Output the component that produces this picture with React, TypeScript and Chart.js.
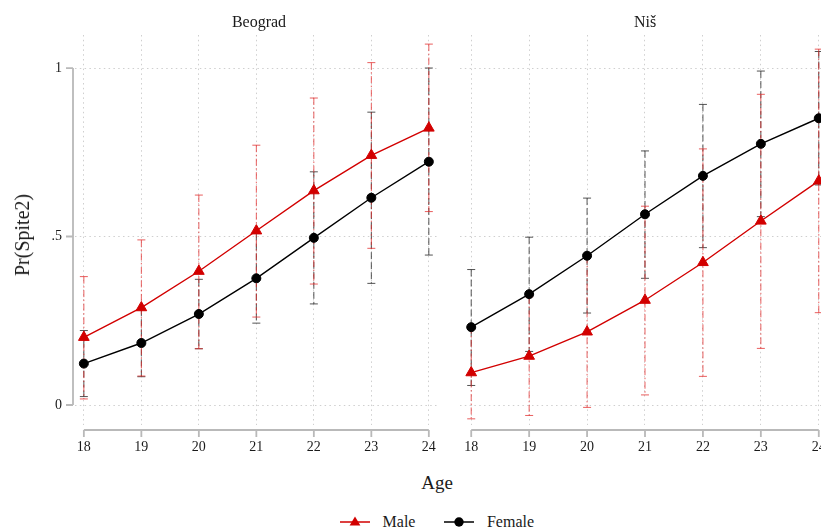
import React, { useEffect, useRef } from 'react';
import { Chart, registerables } from 'chart.js';
Chart.register(...registerables);

// ---------- data ----------
const ages = [18, 19, 20, 21, 22, 23, 24];
const yTicks = [0, 0.5, 1];
const yTickLabels = ['0', '.5', '1'];
const panelTitles = ['Beograd', 'Niš'];
const seriesNames = ['Male', 'Female'];
const xAxisTitle = 'Age';
const yAxisTitle = 'Pr(Spite2)';

const beogradMale = [0.201, 0.289, 0.397, 0.517, 0.636, 0.741, 0.822];
const beogradMaleLo = [0.018, 0.086, 0.167, 0.261, 0.359, 0.465, 0.574];
const beogradMaleHi = [0.381, 0.49, 0.623, 0.771, 0.911, 1.016, 1.071];
const beogradFemale = [0.123, 0.184, 0.27, 0.376, 0.496, 0.615, 0.722];
const beogradFemaleLo = [0.025, 0.084, 0.167, 0.243, 0.3, 0.361, 0.445];
const beogradFemaleHi = [0.221, 0.284, 0.373, 0.509, 0.692, 0.869, 1.0];

const nisMale = [0.096, 0.145, 0.217, 0.311, 0.423, 0.546, 0.665];
const nisMaleLo = [-0.041, -0.031, -0.007, 0.03, 0.085, 0.168, 0.274];
const nisMaleHi = [0.233, 0.321, 0.441, 0.59, 0.76, 0.922, 1.056];
const nisFemale = [0.231, 0.329, 0.443, 0.566, 0.68, 0.775, 0.851];
const nisFemaleLo = [0.058, 0.159, 0.273, 0.376, 0.467, 0.559, 0.653];
const nisFemaleHi = [0.402, 0.498, 0.614, 0.754, 0.892, 0.991, 1.049];

// ---------- styles ----------
const FONT = "'Liberation Serif', 'Times New Roman', serif";
const RED = '#d20000';
const BLACK = '#000000';
const RED_BAR = 'rgba(225,40,40,0.75)';
const BLACK_BAR = 'rgba(40,40,40,0.8)';
const GRID = '#cfcfcf';
const AXIS = '#b9b9b9';
const TEXT = '#1a1a1a';

type PanelOpts = {
  male: number[]; maleLo: number[]; maleHi: number[];
  female: number[]; femaleLo: number[]; femaleHi: number[];
  xMin: number; xMax: number; showY: boolean;
  padLeft: number; padRight: number; yWidth: number;
};

function makeConfig(o: PanelOpts): any {
  const errPlugin = {
    id: 'errAndAxes',
    beforeDatasetsDraw(chart: any) {
      const ctx = chart.ctx;
      const xs = chart.scales.x;
      const ys = chart.scales.y;
      const bars = [
        { lo: o.femaleLo, hi: o.femaleHi, color: BLACK_BAR, dash: [7, 3] },
        { lo: o.maleLo, hi: o.maleHi, color: RED_BAR, dash: [7, 2.5, 1.5, 2.5] },
      ];
      ctx.save();
      ctx.lineWidth = 1;
      for (const b of bars) {
        ctx.strokeStyle = b.color;
        for (let i = 0; i < ages.length; i++) {
          const x = xs.getPixelForValue(ages[i]);
          const y1 = ys.getPixelForValue(b.lo[i]);
          const y2 = ys.getPixelForValue(b.hi[i]);
          ctx.setLineDash(b.dash);
          ctx.beginPath();
          ctx.moveTo(x, y2);
          ctx.lineTo(x, y1);
          ctx.stroke();
          ctx.setLineDash([]);
          ctx.beginPath();
          ctx.moveTo(x - 4, y1);
          ctx.lineTo(x + 4, y1);
          ctx.moveTo(x - 4, y2);
          ctx.lineTo(x + 4, y2);
          ctx.stroke();
        }
      }
      ctx.restore();
    },
    afterDraw(chart: any) {
      const ctx = chart.ctx;
      const xs = chart.scales.x;
      const ys = chart.scales.y;
      const ca = chart.chartArea;
      ctx.save();
      ctx.strokeStyle = AXIS;
      ctx.lineWidth = 1.8;
      ctx.setLineDash([]);
      const xa = ca.bottom + 5;
      const x0 = xs.getPixelForValue(ages[0]);
      const x1 = xs.getPixelForValue(ages[ages.length - 1]);
      ctx.beginPath();
      ctx.moveTo(x0, xa);
      ctx.lineTo(x1, xa);
      for (const a of ages) {
        const x = xs.getPixelForValue(a);
        ctx.moveTo(x, xa);
        ctx.lineTo(x, xa + 7);
      }
      ctx.stroke();
      if (o.showY) {
        const ya = ca.left - 2;
        const yA = ys.getPixelForValue(yTicks[0]);
        const yB = ys.getPixelForValue(yTicks[yTicks.length - 1]);
        ctx.beginPath();
        ctx.moveTo(ya, yA);
        ctx.lineTo(ya, yB);
        for (const t of yTicks) {
          const y = ys.getPixelForValue(t);
          ctx.moveTo(ya - 7, y);
          ctx.lineTo(ya, y);
        }
        ctx.stroke();
      }
      ctx.restore();
    },
  };

  return {
    type: 'line',
    data: {
      datasets: [
        {
          label: seriesNames[0],
          data: ages.map((a, i) => ({ x: a, y: o.male[i] })),
          borderColor: RED,
          backgroundColor: RED,
          pointBackgroundColor: RED,
          pointBorderColor: RED,
          borderWidth: 1.4,
          pointStyle: 'triangle',
          pointRadius: 6.2,
          pointBorderWidth: 1,
          tension: 0,
        },
        {
          label: seriesNames[1],
          data: ages.map((a, i) => ({ x: a, y: o.female[i] })),
          borderColor: BLACK,
          backgroundColor: BLACK,
          pointBackgroundColor: BLACK,
          pointBorderColor: BLACK,
          borderWidth: 1.4,
          pointStyle: 'circle',
          pointRadius: 4.5,
          pointBorderWidth: 1,
          tension: 0,
        },
      ],
    },
    options: {
      responsive: false,
      animation: false,
      events: [],
      layout: { padding: { left: o.padLeft, right: o.padRight, top: 35, bottom: 0 } },
      plugins: { legend: { display: false }, tooltip: { enabled: false }, title: { display: false } },
      scales: {
        x: {
          type: 'linear',
          min: o.xMin,
          max: o.xMax,
          afterBuildTicks: (axis: any) => {
            axis.ticks = ages.map((v) => ({ value: v }));
          },
          afterFit: (s: any) => {
            s.height = 35;
          },
          ticks: {
            callback: (v: any) => String(v),
            font: { family: FONT, size: 14 },
            color: TEXT,
            padding: 14,
            maxRotation: 0,
            autoSkip: false,
          },
          grid: { color: GRID, lineWidth: 1, drawTicks: false },
          border: { display: false, dash: [1.5, 3.3] },
        },
        y: {
          type: 'linear',
          min: -0.0593,
          max: 1.098,
          afterBuildTicks: (axis: any) => {
            axis.ticks = yTicks.map((v) => ({ value: v }));
          },
          afterFit: (s: any) => {
            s.width = o.yWidth;
          },
          ticks: {
            display: o.showY,
            callback: (v: any) => {
              const k = yTicks.indexOf(v);
              return k >= 0 ? yTickLabels[k] : '';
            },
            font: { family: FONT, size: 14 },
            color: TEXT,
            padding: 13,
          },
          grid: { color: GRID, lineWidth: 1, drawTicks: false },
          border: { display: false, dash: [1.5, 3.3] },
        },
      },
    },
    plugins: [errPlugin],
  };
}

const centered = (x: number, y: number, size: number, extra: any = {}): React.CSSProperties => ({
  position: 'absolute',
  left: x,
  top: y,
  transform: 'translate(-50%,-50%)' + (extra.rotate ? ' rotate(-90deg)' : ''),
  fontSize: size,
  lineHeight: 1,
  whiteSpace: 'nowrap',
  color: TEXT,
  fontFamily: FONT,
});

export default function App() {
  const leftRef = useRef<HTMLCanvasElement>(null);
  const rightRef = useRef<HTMLCanvasElement>(null);

  useEffect(() => {
    const left = new Chart(
      leftRef.current as HTMLCanvasElement,
      makeConfig({
        male: beogradMale, maleLo: beogradMaleLo, maleHi: beogradMaleHi,
        female: beogradFemale, femaleLo: beogradFemaleLo, femaleHi: beogradFemaleHi,
        xMin: 17.846, xMax: 24.149, showY: true, padLeft: 0, padRight: 7, yWidth: 75,
      })
    );
    const right = new Chart(
      rightRef.current as HTMLCanvasElement,
      makeConfig({
        male: nisMale, maleLo: nisMaleLo, maleHi: nisMaleHi,
        female: nisFemale, femaleLo: nisFemaleLo, femaleHi: nisFemaleHi,
        xMin: 17.812, xMax: 24.183, showY: false, padLeft: 9, padRight: 9, yWidth: 0,
      })
    );
    return () => {
      left.destroy();
      right.destroy();
    };
  }, []);

  return (
    <div
      style={{
        position: 'absolute', left: 0, top: 0, width: 821, height: 529,
        overflow: 'hidden', background: '#fff', fontFamily: FONT,
      }}
    >
      <canvas ref={leftRef} width={450} height={460} style={{ position: 'absolute', left: 0, top: 0 }} />
      <canvas ref={rightRef} width={390} height={460} style={{ position: 'absolute', left: 450, top: 0 }} />
      <div style={centered(259, 21.5, 16)}>{panelTitles[0]}</div>
      <div style={centered(645, 21.5, 16)}>{panelTitles[1]}</div>
      <div style={centered(437, 481.5, 19)}>{xAxisTitle}</div>
      <div style={centered(22, 235, 20, { rotate: true })}>{yAxisTitle}</div>
      <svg width={31} height={14} style={{ position: 'absolute', left: 340, top: 515 }}>
        <line x1={0} y1={7} x2={30} y2={7} stroke={RED} strokeWidth={1.5} />
        <polygon points="15,1.6 20.4,10.6 9.6,10.6" fill={RED} />
      </svg>
      <div style={{ ...centered(399, 522, 16) }}>{seriesNames[0]}</div>
      <svg width={31} height={14} style={{ position: 'absolute', left: 444, top: 515 }}>
        <line x1={0} y1={7} x2={30} y2={7} stroke={BLACK} strokeWidth={1.5} />
        <circle cx={15} cy={7} r={4.7} fill={BLACK} />
      </svg>
      <div style={{ ...centered(510.5, 522, 16) }}>{seriesNames[1]}</div>
    </div>
  );
}
